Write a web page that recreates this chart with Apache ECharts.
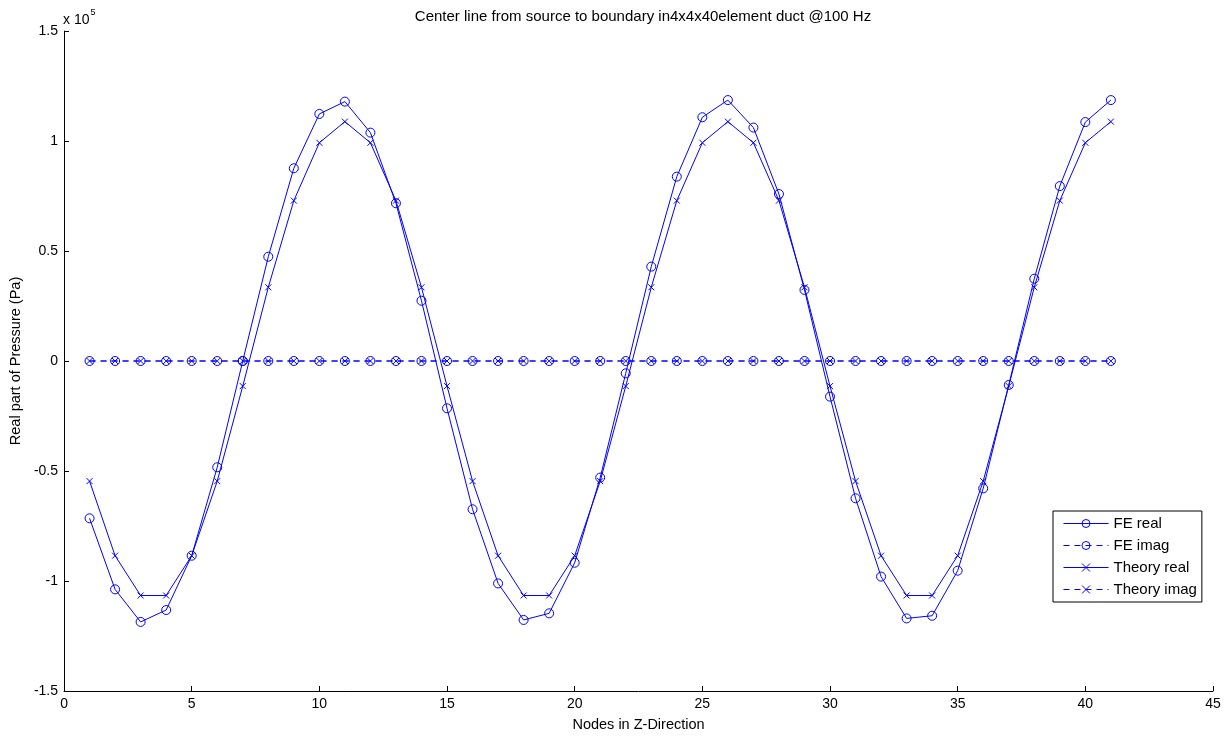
<!DOCTYPE html>
<html>
<head>
<meta charset="utf-8">
<script src="https://cdn.jsdelivr.net/npm/echarts@6/dist/echarts.min.js"></script>
<style>
html,body{margin:0;padding:0;background:#fff;}
#chart{width:1232px;height:738px;}
</style>
</head>
<body>
<div id="chart"></div>
<script>
// Node numbers
const nodes = [1,2,3,4,5,6,7,8,9,10,11,12,13,14,15,16,17,18,19,20,21,22,23,24,25,26,27,28,29,30,31,32,33,34,35,36,37,38,39,40,41];
// Values in units of 1e5 Pa
const feReal = [-0.715,-1.038,-1.186,-1.132,-0.885,-0.483,0.0,0.474,0.876,1.123,1.179,1.038,0.717,0.274,-0.215,-0.674,-1.011,-1.177,-1.147,-0.917,-0.530,-0.056,0.429,0.838,1.108,1.186,1.061,0.759,0.323,-0.162,-0.624,-0.980,-1.170,-1.158,-0.953,-0.579,-0.109,0.374,0.795,1.086,1.186];
const feImag = [0,0,0,0,0,0,0,0,0,0,0,0,0,0,0,0,0,0,0,0,0,0,0,0,0,0,0,0,0,0,0,0,0,0,0,0,0,0,0,0,0];
const theoryReal = [-0.546,-0.885,-1.066,-1.066,-0.885,-0.546,-0.114,0.335,0.729,0.992,1.088,0.992,0.729,0.335,-0.114,-0.546,-0.885,-1.066,-1.066,-0.885,-0.546,-0.114,0.335,0.729,0.992,1.088,0.992,0.729,0.335,-0.114,-0.546,-0.885,-1.066,-1.066,-0.885,-0.546,-0.114,0.335,0.729,0.992,1.088];
const theoryImag = [0,0,0,0,0,0,0,0,0,0,0,0,0,0,0,0,0,0,0,0,0,0,0,0,0,0,0,0,0,0,0,0,0,0,0,0,0,0,0,0,0];
const seriesNames = ['FE real','FE imag','Theory real','Theory imag'];
const scale = 1e5;

const blue = '#0000ff';
const font = 'Liberation Sans, Arial, Helvetica, sans-serif';
const crossPath = 'path://M0,0L10,10M10,0L0,10';

function pairs(vals){ return nodes.map((n,i)=>[n, vals[i]*scale]); }

function mkSeries(name, vals, symbol, size, dashed){
  return {
    name: name,
    type: 'line',
    data: pairs(vals),
    symbol: symbol,
    symbolSize: size,
    showAllSymbol: true,
    lineStyle: {color: blue, width: 1, type: dashed ? [6,5] : 'solid'},
    itemStyle: {color: 'rgba(0,0,0,0)', borderColor: blue, borderWidth: 1},
    emphasis: {disabled: true},
    animation: false,
    z: 2
  };
}

const chart = echarts.init(document.getElementById('chart'), null, {renderer:'canvas'});
chart.setOption({
  backgroundColor: '#fff',
  animation: false,
  title: {
    text: 'Center line from source to boundary in4x4x40element duct @100 Hz',
    left: 638, top: 4, textAlign: 'center',
    textStyle: {fontFamily: font, fontSize: 15, fontWeight: 'normal', color: '#000'}
  },
  grid: {left: 64, right: 19, top: 31, bottom: 47, containLabel: false},
  xAxis: {
    type: 'value', min: 0, max: 45, interval: 5,
    name: 'Nodes in Z-Direction', nameLocation: 'middle', nameGap: 26,
    nameTextStyle: {fontFamily: font, fontSize: 14.5, color: '#000'},
    axisLine: {show: true, onZero: false, lineStyle: {color: '#000', width: 1}},
    axisTick: {show: true, inside: true, length: 5, lineStyle: {color: '#000'}},
    axisLabel: {fontFamily: font, fontSize: 14, color: '#000', margin: 6},
    splitLine: {show: false}
  },
  yAxis: {
    type: 'value', min: -150000, max: 150000, interval: 50000,
    name: 'Real part of Pressure (Pa)', nameLocation: 'middle', nameGap: 40, nameRotate: 90,
    nameTextStyle: {fontFamily: font, fontSize: 14.5, color: '#000'},
    axisLine: {show: true, onZero: false, lineStyle: {color: '#000', width: 1}},
    axisTick: {show: true, inside: true, length: 5, lineStyle: {color: '#000'}},
    axisLabel: {fontFamily: font, fontSize: 14, color: '#000', margin: 6,
      formatter: v => String(Math.round(v/scale*10)/10)},
    splitLine: {show: false}
  },
  legend: {
    orient: 'vertical', left: 1053, top: 511,
    data: seriesNames,
    itemWidth: 45, itemHeight: 10, itemGap: 7,
    padding: [5, 5, 5, 10],
    borderColor: '#000', borderWidth: 1, backgroundColor: '#fff',
    lineStyle: {color: blue, width: 1, type: 'inherit'},
    itemStyle: {color: 'rgba(0,0,0,0)', borderColor: blue, borderWidth: 1},
    textStyle: {fontFamily: font, fontSize: 15, color: '#000'},
    selectedMode: false
  },
  graphic: [{
    type: 'text', left: 63, top: 8,
    style: {
      text: '{a|x 10}{b|5}',
      rich: {
        a: {fontFamily: font, fontSize: 14, fill: '#000', padding: [5,0,0,0]},
        b: {fontFamily: font, fontSize: 9, fill: '#000', verticalAlign: 'top', padding: [0,0,0,1]}
      }
    }
  }],
  series: [
    mkSeries(seriesNames[0], feReal, 'circle', 9, false),
    mkSeries(seriesNames[1], feImag, 'circle', 9, true),
    mkSeries(seriesNames[2], theoryReal, crossPath, 6, false),
    mkSeries(seriesNames[3], theoryImag, crossPath, 6, true)
  ]
});
</script>
</body>
</html>
